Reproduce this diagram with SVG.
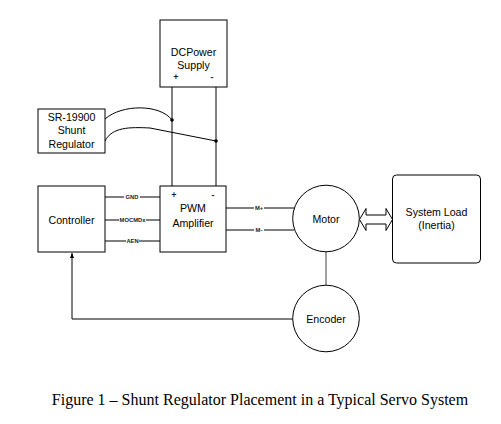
<svg xmlns="http://www.w3.org/2000/svg" width="501" height="424" viewBox="0 0 501 424">
<style>
.box{fill:#fff;stroke:#000;stroke-width:1}
.t{font-family:"Liberation Sans",Arial,sans-serif;font-size:10.6px;fill:#000;text-anchor:middle}
.p{font-family:"Liberation Sans",Arial,sans-serif;font-size:9px;font-weight:bold;fill:#1a1a3a;text-anchor:middle}
.s{font-family:"Liberation Sans",Arial,sans-serif;font-size:5.8px;font-weight:bold;fill:#222;text-anchor:middle}
.w{stroke:#000;stroke-width:1;fill:none}
.cap{font-family:"Liberation Serif","Times New Roman",serif;font-size:16px;fill:#000;text-anchor:middle}
</style>
<defs>
<marker id="ah" markerWidth="6" markerHeight="6" refX="5" refY="3" orient="auto" markerUnits="userSpaceOnUse">
<path d="M0,1 L5,3 L0,5 Z" fill="#000"/>
</marker>
</defs>
<rect width="501" height="424" fill="#fff"/>
<g id="connectors">
<line class="w" x1="172" y1="87" x2="172" y2="186"/>
<line class="w" x1="216" y1="87" x2="216" y2="186"/>
<path class="w" d="M105,119 C122,104 160,104 172,120"/>
<path class="w" d="M105,141 C112,127 130,127 150,128 L216,141"/>
<circle cx="172" cy="120" r="1.8" fill="#000"/>
<circle cx="216" cy="141" r="1.8" fill="#000"/>
<line class="w" x1="105" y1="197" x2="160" y2="197"/>
<line class="w" x1="105" y1="220" x2="160" y2="220"/>
<line class="w" x1="105" y1="241" x2="160" y2="241"/>
<rect x="124" y="194" width="16" height="6" fill="#fff"/>
<rect x="119" y="217" width="27" height="6" fill="#fff"/>
<rect x="126" y="238" width="13" height="6" fill="#fff"/>
<text class="s" x="132" y="199">GND</text>
<text class="s" x="132.5" y="222">MOCMDx</text>
<text class="s" x="132.5" y="243">AEN</text>
<line class="w" x1="226" y1="208" x2="294" y2="208"/>
<line class="w" x1="226" y1="230" x2="294" y2="230"/>
<rect x="254" y="205" width="10" height="6" fill="#fff"/>
<rect x="254" y="227" width="10" height="6" fill="#fff"/>
<text class="s" x="259" y="210">M+</text>
<text class="s" x="259" y="232">M-</text>
<line x1="326" y1="252" x2="326" y2="285" stroke="#777" stroke-width="1.4"/>
<path class="w" d="M293,319 L72,319 L72,253" marker-end="url(#ah)"/>
<path d="M359.5,219.5 L366,208.5 L366,215 L386,215 L386,208.5 L392.5,219.5 L386,230.5 L386,224 L366,224 L366,230.5 Z" fill="#fff" stroke="#000" stroke-width="1"/>
</g>
<g id="dc-power">
<rect class="box" x="160" y="20" width="67" height="67"/>
<text class="t" x="193.5" y="56">DCPower</text>
<text class="t" x="193.5" y="69">Supply</text>
<text class="p" x="176" y="80">+</text>
<text class="p" x="212" y="80">-</text>
</g>
<g id="shunt">
<rect class="box" x="38" y="109" width="67" height="44"/>
<text class="t" x="71.5" y="121">SR-19900</text>
<text class="t" x="71.5" y="134">Shunt</text>
<text class="t" x="71.5" y="148">Regulator</text>
</g>
<g id="controller">
<rect class="box" x="38" y="186" width="67" height="66"/>
<text class="t" x="71.5" y="224">Controller</text>
</g>
<g id="pwm">
<rect class="box" x="160" y="186" width="66" height="66"/>
<text class="p" x="174" y="198">+</text>
<text class="p" x="213" y="198">-</text>
<text class="t" x="193" y="212">PWM</text>
<text class="t" x="193" y="227">Amplifier</text>
</g>
<g id="motor">
<circle class="box" cx="326" cy="218.5" r="33.3"/>
<text class="t" x="326" y="223">Motor</text>
</g>
<g id="load">
<rect class="box" x="392.5" y="175" width="88" height="88" rx="4"/>
<text class="t" x="436.5" y="216">System Load</text>
<text class="t" x="436.5" y="229">(Inertia)</text>
</g>
<g id="encoder">
<circle class="box" cx="326" cy="318.5" r="33.3"/>
<text class="t" x="326" y="323">Encoder</text>
</g>
<text class="cap" x="260" y="405">Figure 1 – Shunt Regulator Placement in a Typical Servo System</text>
</svg>
